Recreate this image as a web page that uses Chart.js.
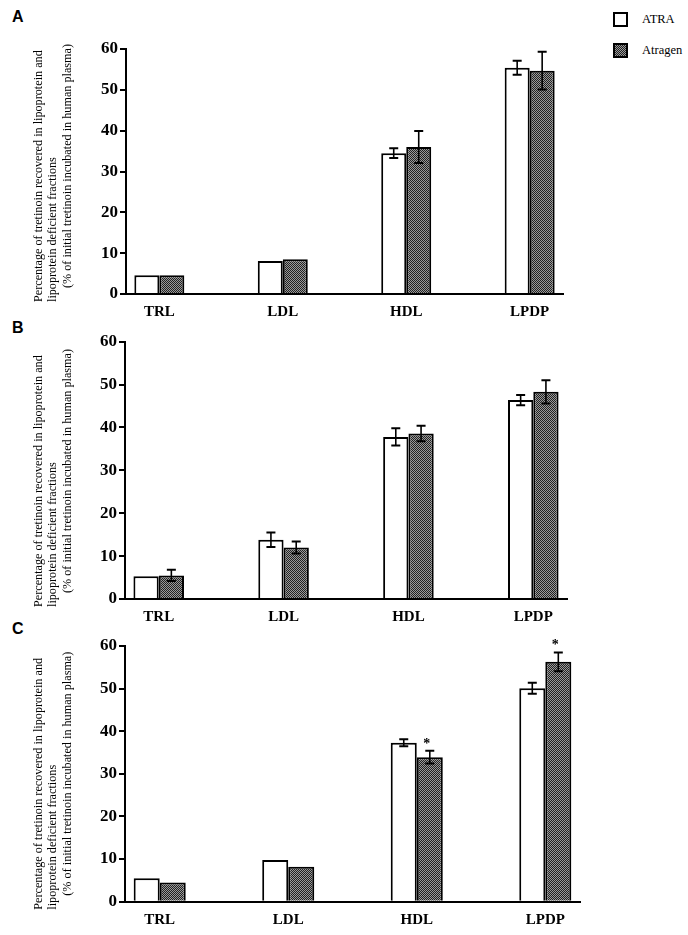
<!DOCTYPE html>
<html>
<head>
<meta charset="utf-8">
<script src="https://cdn.jsdelivr.net/npm/chart.js@4.4.0/dist/chart.umd.min.js"></script>
<style>
  body { margin: 0; background: #fff; width: 688px; height: 935px; position: relative; overflow: hidden; }
  canvas { position: absolute; left: 0; }
  .panel { position: absolute; font: bold 16px "Liberation Sans", Arial, sans-serif; line-height: 16px; }
  .key { position: absolute; left: 613px; width: 11px; height: 11px; border: 2px solid #000; background: #fff; }
  .key.dark { background: repeating-conic-gradient(#222 0 25%, #9a9a9a 0 50%) 0 0 / 2px 2px; }
  .keytxt { position: absolute; left: 642px; font: 12.5px "Liberation Serif", "Times New Roman", serif; line-height: 15px; }
</style>
</head>
<body>
<div class="panel" style="left:12px;top:9px">A</div>
<div class="panel" style="left:12px;top:320px">B</div>
<div class="panel" style="left:12px;top:621px">C</div>

<div id="legend"></div>

<canvas id="chartA" width="688" height="330" style="top:0px"></canvas>
<canvas id="chartB" width="688" height="320" style="top:310px"></canvas>
<canvas id="chartC" width="688" height="320" style="top:615px"></canvas>

<script>
// data
var categories = ['TRL', 'LDL', 'HDL', 'LPDP'];
var seriesNames = ['ATRA', 'Atragen'];
var yTicks = [0, 10, 20, 30, 40, 50, 60];
var yTitle = [
  'Percentage of tretinoin recovered in lipoprotein and',
  'lipoprotein deficient fractions',
  '(% of initial tretinoin incubated in human plasma)'
];

var atraA = [4.6, 8.1, 34.5, 55.4];
var atraErrA = [null, null, 1.2, 1.7];
var atragenA = [4.6, 8.5, 36.0, 54.7];
var atragenErrA = [null, null, 3.9, 4.6];

var atraB = [5.3, 13.8, 37.8, 46.4];
var atraErrB = [null, 1.7, 2.0, 1.2];
var atragenB = [5.5, 12.0, 38.6, 48.3];
var atragenErrB = [1.3, 1.4, 1.8, 2.7];

var atraC = [5.5, 9.8, 37.3, 50.1];
var atraErrC = [null, null, 0.8, 1.3];
var atragenC = [4.5, 8.2, 33.9, 56.3];
var atragenErrC = [null, null, 1.5, 2.2];
var starsC = [false, false, true, true];

var serif = '"Liberation Serif", "Times New Roman", serif';

// legend (html)
var legend = document.getElementById('legend');
seriesNames.forEach(function(name, i) {
  var top = 12 + i * 31;
  legend.innerHTML += '<div class="key' + (i ? ' dark' : '') + '" style="top:' + top + 'px"></div>' +
    '<div class="keytxt" style="top:' + (top) + 'px">' + name + '</div>';
});

function makePattern() {
  var c = document.createElement('canvas');
  c.width = 2; c.height = 2;
  var g = c.getContext('2d');
  g.fillStyle = '#9a9a9a';
  g.fillRect(0, 0, 2, 2);
  g.fillStyle = '#222';
  g.fillRect(0, 0, 1, 1);
  g.fillRect(1, 1, 1, 1);
  return g.createPattern(c, 'repeat');
}

function points(values) {
  return values.map(function(v, i) { return { x: i + 1, y: v }; });
}

var errorBars = {
  id: 'errorBars',
  afterDatasetsDraw: function(chart) {
    var ctx = chart.ctx, y = chart.scales.y;
    ctx.save();
    ctx.strokeStyle = '#000';
    ctx.fillStyle = '#000';
    chart.data.datasets.forEach(function(ds, di) {
      var meta = chart.getDatasetMeta(di);
      meta.data.forEach(function(bar, i) {
        var err = ds.errors[i];
        if (err == null) return;
        var v = ds.data[i].y;
        var top = y.getPixelForValue(v + err);
        var bot = y.getPixelForValue(v - err);
        ctx.lineWidth = 1.6;
        ctx.beginPath();
        ctx.moveTo(bar.x, top); ctx.lineTo(bar.x, bot);
        ctx.stroke();
        ctx.lineWidth = 2;
        ctx.beginPath();
        ctx.moveTo(bar.x - 4.5, top); ctx.lineTo(bar.x + 4.5, top);
        ctx.moveTo(bar.x - 4.5, bot); ctx.lineTo(bar.x + 4.5, bot);
        ctx.stroke();
        if (ds.stars && ds.stars[i]) {
          ctx.font = 'bold 14px ' + serif;
          ctx.textAlign = 'center';
          ctx.textBaseline = 'alphabetic';
          ctx.fillText('*', bar.x - 3, top - 3);
        }
      });
    });
    ctx.restore();
  }
};

var sideTitle = {
  id: 'sideTitle',
  afterDraw: function(chart) {
    var ctx = chart.ctx, b = chart.chartArea.bottom;
    var xs = [39, 53, 68];
    var starts = [b + 8, b + 8, b - 6];
    ctx.save();
    ctx.fillStyle = '#000';
    ctx.font = '12.2px ' + serif;
    ctx.textAlign = 'left';
    ctx.textBaseline = 'middle';
    yTitle.forEach(function(line, i) {
      ctx.save();
      ctx.translate(xs[i], starts[i]);
      ctx.rotate(-Math.PI / 2);
      ctx.fillText(line, 0, 0);
      ctx.restore();
    });
    ctx.restore();
  }
};

function drawPanel(id, atra, atraErr, atragen, atragenErr, stars, box) {
  var canvas = document.getElementById(id);
  new Chart(canvas, {
    type: 'bar',
    data: {
      datasets: [{
        label: seriesNames[0],
        data: points(atra),
        errors: atraErr,
        backgroundColor: '#ffffff',
        borderColor: '#000000',
        borderWidth: 2
      }, {
        label: seriesNames[1],
        data: points(atragen),
        errors: atragenErr,
        stars: stars,
        backgroundColor: makePattern(),
        borderColor: '#000000',
        borderWidth: 2
      }]
    },
    options: {
      responsive: false,
      animation: false,
      barPercentage: 1,
      categoryPercentage: 0.405,
      layout: { padding: { top: box.top, right: box.right, left: 0, bottom: 0 } },
      plugins: {
        legend: { display: false },
        tooltip: { enabled: false }
      },
      scales: {
        x: {
          type: 'linear',
          offset: false,
          min: 0.73,
          max: 4.27,
          afterBuildTicks: function(scale) {
            scale.ticks = categories.map(function(c, i) { return { value: i + 1 }; });
          },
          afterFit: function(scale) { scale.height = box.xh; },
          ticks: {
            autoSkip: false,
            maxRotation: 0,
            padding: 9,
            color: '#000',
            font: { family: serif, size: 15, weight: 'bold' },
            callback: function(v) { return categories[v - 1]; }
          },
          grid: { display: false, drawTicks: false },
          border: { display: true, color: '#000', width: 2 }
        },
        y: {
          min: 0,
          max: 60,
          afterBuildTicks: function(scale) {
            scale.ticks = yTicks.map(function(v) { return { value: v }; });
          },
          afterFit: function(scale) { scale.width = box.left; },
          ticks: {
            padding: 2,
            color: '#000',
            font: { family: serif, size: 17, weight: 'bold' }
          },
          grid: { drawOnChartArea: false, color: '#000', lineWidth: 2, tickLength: 6 },
          border: { display: true, color: '#000', width: 2 }
        }
      }
    },
    plugins: [errorBars, sideTitle]
  });
}

drawPanel('chartA', atraA, atraErrA, atragenA, atragenErrA, null,
  { left: 126, top: 49, right: 125, xh: 36 });
drawPanel('chartB', atraB, atraErrB, atragenB, atragenErrB, null,
  { left: 125, top: 31.7, right: 121, xh: 31 });
drawPanel('chartC', atraC, atraErrC, atragenC, atragenErrC, starsC,
  { left: 125, top: 31, right: 108, xh: 33.3 });
</script>
</body>
</html>
